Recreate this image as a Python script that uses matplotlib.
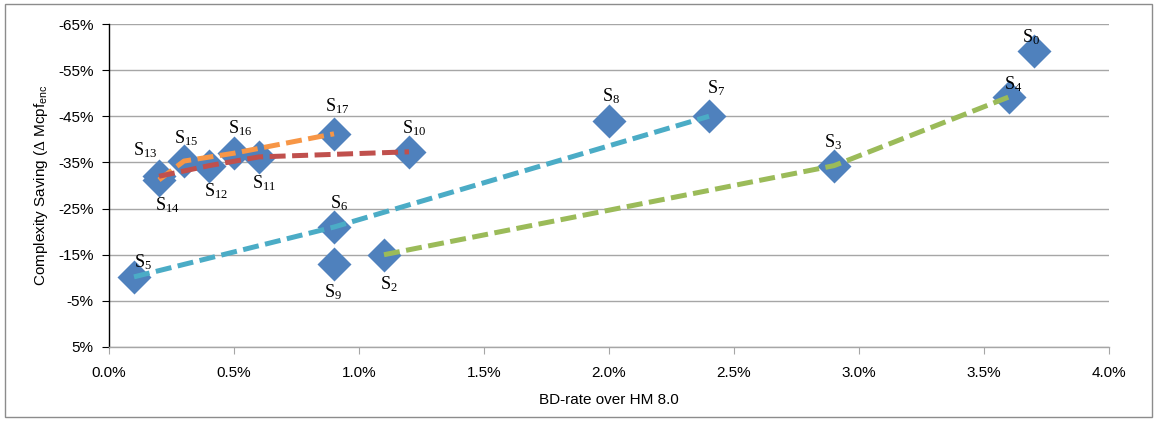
import matplotlib
matplotlib.use("Agg")
import matplotlib.pyplot as plt
from matplotlib.patches import Rectangle
from matplotlib import font_manager

names = {f.name for f in font_manager.fontManager.ttflist}
narrow = 'Liberation Sans Narrow' if 'Liberation Sans Narrow' in names else 'Liberation Sans'

plt.rcParams['mathtext.fontset'] = 'custom'
plt.rcParams['mathtext.rm'] = 'Liberation Serif'
plt.rcParams['mathtext.it'] = 'Liberation Serif:italic'

# Data: BD-rate (%) and complexity saving (%)
labels = ['0', '2', '3', '4', '5', '6', '7', '8', '9', '10',
          '11', '12', '13', '14', '15', '16', '17']
bd_rate = [3.7, 1.1, 2.9, 3.6, 0.1, 0.9, 2.4, 2.0, 0.9, 1.2,
           0.6, 0.4, 0.2, 0.2, 0.3, 0.5, 0.9]
saving = [-59.2, -15.0, -34.3, -49.2, -10.2, -21.0, -45.0, -44.0, -13.0, -37.3,
          -36.2, -34.3, -32.0, -31.2, -35.3, -37.0, -41.2]

# Connected series (by label)
orange_path = ['14', '15', '16', '17']
red_path = ['13', '12', '11', '10']
cyan_path = ['5', '6', '7']
green_path = ['2', '3', '4']

# label offsets in pixels (dx, dy) relative to marker (dy positive = up)
label_offsets = {
    '0': (-3, 14), '2': (5, -29), '3': (-1, 24), '4': (4, 13), '5': (9, 15),
    '6': (5, 24), '7': (7, 28), '8': (2, 25), '9': (-1, -28), '10': (5, 24),
    '11': (5, -26), '12': (7, -25), '13': (-14, 26), '14': (8, -25),
    '15': (2, 23), '16': (6, 25), '17': (3, 28),
}

fig = plt.figure(figsize=(11.58, 4.23), dpi=100)
fig.patches.append(Rectangle((5 / 1158, 1 - 417 / 423), 1147 / 1158, 413 / 423,
                             transform=fig.transFigure, fill=False,
                             edgecolor='#8c8c8c', linewidth=1.0))
ax = fig.add_axes([109 / 1158, 1 - 347 / 423, 1000 / 1158, 323 / 423])

idx = {l: i for i, l in enumerate(labels)}

ax.scatter(bd_rate, saving, marker='D', s=300, color='#4F81BD', zorder=3, linewidths=0)

for path, col in [(orange_path, '#F79646'), (red_path, '#C0504D'),
                  (cyan_path, '#4BACC6'), (green_path, '#9BBB59')]:
    xs = [bd_rate[idx[p]] for p in path]
    ys = [saving[idx[p]] for p in path]
    ax.plot(xs, ys, color=col, linewidth=3.6, linestyle=(0, (3.2, 1.3)), zorder=4)

for l in labels:
    dx, dy = label_offsets[l]
    ax.annotate(r'S$_{' + l + '}$', (bd_rate[idx[l]], saving[idx[l]]),
                xytext=(dx * 0.72, dy * 0.72), textcoords='offset points',
                ha='center', va='center', fontsize=13,
                family='Liberation Serif', zorder=5)

ax.set_xlim(0, 4.0)
ax.set_ylim(5, -65)
xt = [0.0, 0.5, 1.0, 1.5, 2.0, 2.5, 3.0, 3.5, 4.0]
yt = [-65, -55, -45, -35, -25, -15, -5, 5]
ax.set_xticks(xt)
ax.set_xticklabels([f'{v:.1f}%' for v in xt], family='Liberation Sans', fontsize=11)
ax.set_yticks(yt)
ax.set_yticklabels([f'{v}%' for v in yt], family='Liberation Sans', fontsize=11)

ax.grid(axis='y', color='#a6a6a6', linewidth=1.0)
ax.set_axisbelow(True)
for s in ['top', 'right']:
    ax.spines[s].set_visible(False)
ax.spines['left'].set_color('black')
ax.spines['left'].set_linewidth(1.0)
ax.spines['bottom'].set_color('#a6a6a6')
ax.spines['bottom'].set_linewidth(1.0)
ax.tick_params(axis='x', colors='#a6a6a6', labelcolor='black', length=5, pad=9)
ax.tick_params(axis='y', colors='black', length=5, pad=6)

ax.set_xlabel('BD-rate over HM 8.0', family=narrow, fontsize=11, labelpad=9)
ax.set_ylabel(r'Complexity Saving ($\Delta$ Mcpf$_{\mathregular{enc}}$', family=narrow,
              fontsize=11, labelpad=6)

fig.savefig('out.png', dpi=100)
